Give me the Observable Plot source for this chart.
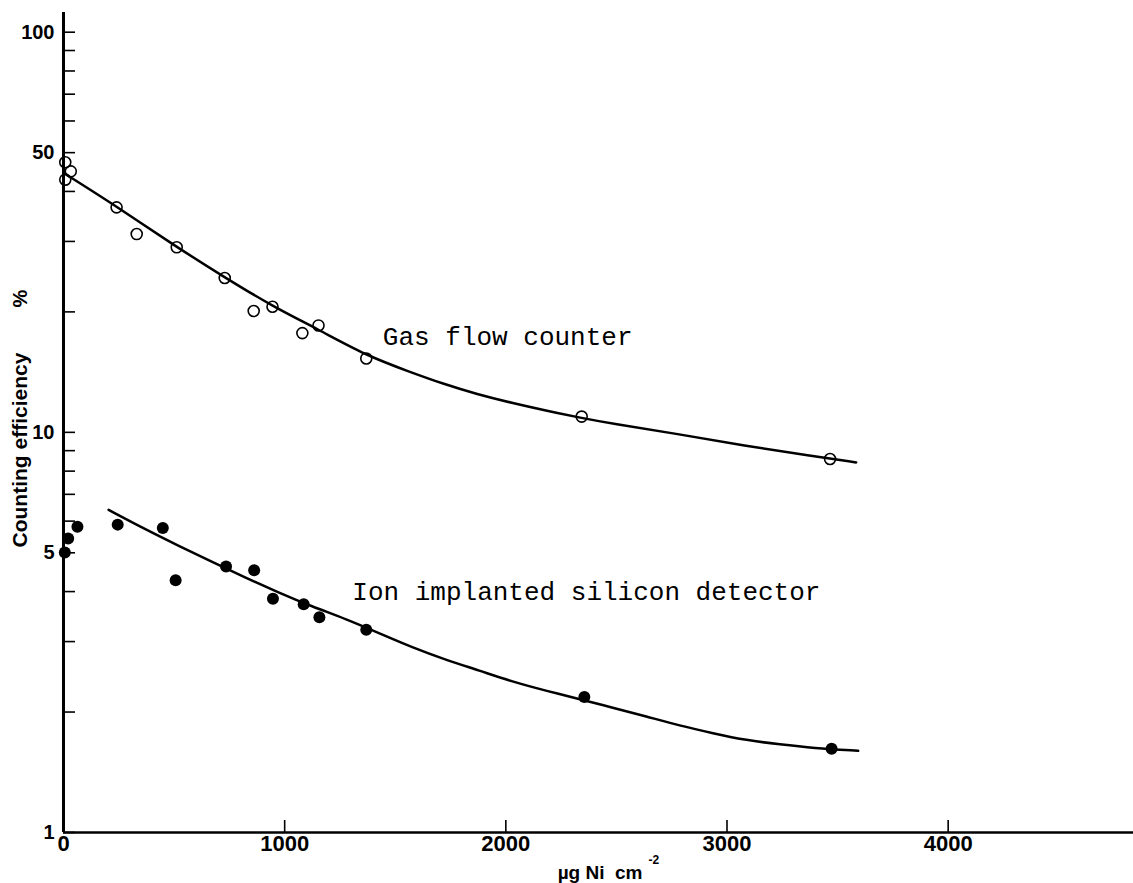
<!DOCTYPE html>
<html><head><meta charset="utf-8">
<script src="https://cdn.jsdelivr.net/npm/d3@7"></script>
<script src="https://cdn.jsdelivr.net/npm/@observablehq/plot@0.6"></script>
<style>body{margin:0;background:#fff}</style>
</head><body><div id="chart"></div>
<script>
// Measured points (open circles: gas flow counter; filled: ion implanted silicon detector)
const gasX = [8, 8, 33, 240, 331, 512, 729, 860, 945, 1080, 1153, 1369, 2343, 3466];
const gasY = [47.3, 42.8, 44.9, 36.5, 31.3, 29.0, 24.3, 20.1, 20.6, 17.7, 18.5, 15.3, 10.95, 8.58];
const ionX = [6, 21, 63, 245, 449, 507, 735, 862, 947, 1086, 1157, 1369, 2355, 3473];
const ionY = [5.01, 5.43, 5.81, 5.88, 5.77, 4.27, 4.62, 4.52, 3.84, 3.72, 3.45, 3.21, 2.18, 1.62];
// Fitted curves (traced)
const gasFitX = [0, 240, 509, 729, 945, 1153, 1369, 1568, 1720, 1871, 2022, 2173, 2343, 2474, 2777, 3079, 3380, 3584];
const gasFitY = [44.5, 36.7, 29.1, 24.4, 20.65, 18.07, 15.55, 14.15, 13.2, 12.45, 11.86, 11.36, 10.86, 10.53, 9.91, 9.26, 8.74, 8.41];
const ionFitX = [204, 368, 519, 670, 821, 972, 1124, 1275, 1426, 1577, 1729, 1880, 2030, 2182, 2355, 2484, 2635, 2786, 2937, 3088, 3239, 3390, 3593];
const ionFitY = [6.40, 5.73, 5.21, 4.75, 4.34, 3.98, 3.67, 3.42, 3.15, 2.90, 2.70, 2.54, 2.38, 2.26, 2.14, 2.05, 1.95, 1.85, 1.77, 1.70, 1.66, 1.625, 1.60];
// Ticks
const xTicks = [0, 1000, 2000, 3000, 4000];
const yTicks = [1, 2, 3, 4, 5, 6, 7, 8, 9, 10, 20, 30, 40, 50, 60, 70, 80, 90, 100];
const yLabelled = [1, 5, 10, 50, 100];
// Annotations
const seriesNames = ["Gas flow counter", "Ion implanted silicon detector"];
const nameX = [1444, 1306];
const nameY = [16.5, 3.82];

const pts = (xs, ys) => xs.map((x, i) => ({x, y: ys[i]}));
const gas = pts(gasX, gasY), ion = pts(ionX, ionY);
const gasFit = pts(gasFitX, gasFitY), ionFit = pts(ionFitX, ionFitY);
const names = seriesNames.map((t, i) => ({t, x: nameX[i], y: nameY[i]}));

const W = 1133, H = 883, mT = 12, mL = 63, mR = 0, mB = 51, TICK = 12;
const sans = "'Liberation Sans', Arial, Helvetica, sans-serif";
const chart = Plot.plot({
  width: W, height: H,
  marginTop: mT, marginLeft: mL, marginRight: mR, marginBottom: mB,
  style: {fontFamily: sans, background: "white", color: "black", overflow: "visible"},
  x: {domain: [0, 4838]},
  y: {type: "log", domain: [1, 112]},
  marks: [
    Plot.line(gasFit, {x: "x", y: "y", stroke: "black", strokeWidth: 2.5, curve: "basis"}),
    Plot.line(ionFit, {x: "x", y: "y", stroke: "black", strokeWidth: 2.5, curve: "basis"}),
    Plot.dot(gas, {x: "x", y: "y", r: 5.5, stroke: "black", strokeWidth: 1.6, fill: "none"}),
    Plot.dot(ion, {x: "x", y: "y", r: 6, fill: "black", stroke: "none"}),
    Plot.text(names, {x: "x", y: "y", text: "t", textAnchor: "start", lineAnchor: "bottom",
      fontFamily: "'Liberation Mono', 'Courier New', monospace", fontSize: 26, fill: "black"}),
    // inward tick marks
    Plot.tickY(yTicks, {y: d => d, stroke: "black", strokeWidth: 1.6, insetRight: W - mL - mR - TICK}),
    Plot.tickX(xTicks, {x: d => d, stroke: "black", strokeWidth: 1.6, insetTop: H - mT - mB - TICK}),
    // tick labels
    Plot.axisY(yLabelled, {tickSize: 0, tickPadding: 9,
      tickFormat: d => String(d), fontSize: 20, fontWeight: "bold", label: null}),
    Plot.axisX(xTicks, {tickSize: 0, tickPadding: 3,
      tickFormat: d => String(d), fontSize: 22, fontWeight: "bold", label: null}),
    Plot.ruleX([0], {strokeWidth: 3, stroke: "black"}),
    Plot.ruleY([1], {strokeWidth: 2.6, stroke: "black"}),
    Plot.text(["Counting efficiency"], {frameAnchor: "left", text: d => d, rotate: -90,
      textAnchor: "start", lineAnchor: "middle", dx: -43, dy: 125, fontSize: 21, fontWeight: "bold"}),
    Plot.text(["%"], {frameAnchor: "left", text: d => d, rotate: -90,
      textAnchor: "middle", lineAnchor: "middle", dx: -43, dy: -124, fontSize: 20, fontWeight: "bold"}),
    Plot.text(["\u00b5g\u00a0Ni\u00a0\u00a0cm"], {frameAnchor: "bottom", text: d => d,
      textAnchor: "end", lineAnchor: "bottom", dx: 44, dy: 46, fontSize: 19, fontWeight: "bold"}),
    Plot.text(["-2"], {frameAnchor: "bottom", text: d => d,
      textAnchor: "start", lineAnchor: "bottom", dx: 50, dy: 31, fontSize: 12, fontWeight: "bold"})
  ]
});
document.getElementById("chart").append(chart);
</script>
</body></html>
